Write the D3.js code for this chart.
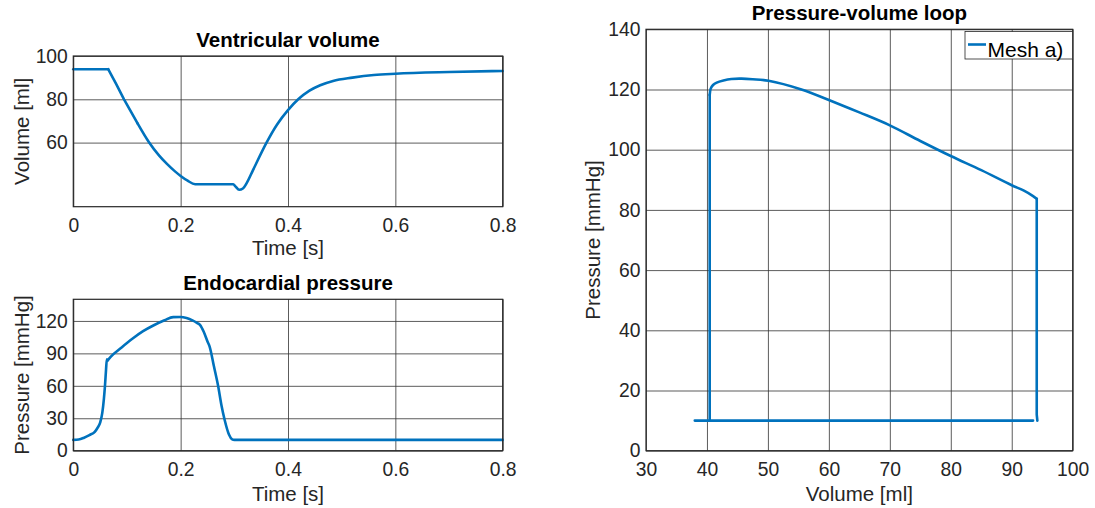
<!DOCTYPE html>
<html>
<head>
<meta charset="utf-8">
<script src="https://cdn.jsdelivr.net/npm/d3@7"></script>
<style>
  body { margin: 0; background: #fff; }
  svg { display: block; }
  text { font-family: "Liberation Sans", Arial, Helvetica, sans-serif; fill: #262626; }
</style>
</head>
<body>
<svg id="chart" width="1095" height="508"></svg>
<script>
// ventricular volume over time
timeVol = [0, 0.065, 0.08, 0.0945, 0.12, 0.141, 0.16, 0.174, 0.19, 0.2, 0.213, 0.227,
  0.298, 0.302, 0.309, 0.316, 0.323, 0.335, 0.36, 0.38, 0.4, 0.419, 0.44, 0.46, 0.484,
  0.52, 0.56, 0.6, 0.7, 0.8]
volume = [93.9, 93.9, 87, 80, 68.8, 60.2, 54, 50.3, 46.6, 44.6, 42.4, 40.8,
  40.8, 39.8, 38.2, 38.8, 41.3, 47.4, 60, 68.5, 75, 80, 84, 86.5, 88.5,
  90, 91.2, 91.8, 92.6, 93.1]

// endocardial pressure over time
timePres = [0, 0.01, 0.02, 0.03, 0.04, 0.045, 0.05, 0.054, 0.057, 0.059, 0.061, 0.0625,
  0.064, 0.07, 0.09, 0.11, 0.13, 0.15, 0.17, 0.186, 0.2, 0.211, 0.222, 0.231, 0.236,
  0.243, 0.25, 0.254, 0.262, 0.27, 0.276, 0.282, 0.29, 0.296, 0.3, 0.8]
pressure = [10, 10.3, 12, 14.5, 17.5, 21, 26, 35, 48, 60, 75, 84.5,
  83.5, 87, 95.5, 103.5, 110.5, 116, 120.6, 123.5, 123.6, 122.6, 120.5, 118, 116.4,
  110, 101, 96.3, 78, 59.3, 42, 28.4, 15, 10.5, 10, 10]

// pressure-volume loop, in time order
loopVolume = [94.2, 94.1, 94.1, 93.5, 92, 90, 85, 80, 75, 70, 65, 60, 55.5, 50.1,
  47.5, 45.7, 44, 42.7, 41.6, 41, 40.6, 40.45, 40.45, 38, 93.5]
loopPressure = [10, 12, 83.7, 84.6, 86.4, 88.2, 93.2, 97.9, 102.9, 108.1, 112.4, 116.5, 120, 122.9,
  123.4, 123.6, 123.5, 123, 122.3, 121.5, 120.2, 118.2, 10, 10, 10]

timeTicks = [0, 0.2, 0.4, 0.6, 0.8]
volumeTicks = [60, 80, 100]
pressureTicks = [0, 30, 60, 90, 120]
loopVolumeTicks = [30, 40, 50, 60, 70, 80, 90, 100]
loopPressureTicks = [0, 20, 40, 60, 80, 100, 120, 140]

const svg = d3.select("#chart")
const blue = "#0072BD"

function panel(o) {
    const x = d3.scaleLinear().domain(o.xDomain).range([o.left, o.right])
    const y = d3.scaleLinear().domain(o.yDomain).range([o.bottom, o.top])
    const w = o.right - o.left, h = o.bottom - o.top
    const g = svg.append("g")

    // grid + tick labels
    const xa = g.append("g")
        .attr("transform", `translate(0,${o.bottom})`)
        .call(d3.axisBottom(x).tickValues(o.xTicks).tickSize(-h).tickPadding(11.5)
            .tickFormat(d3.format("")))
    const ya = g.append("g")
        .attr("transform", `translate(${o.left},0)`)
        .call(d3.axisLeft(y).tickValues(o.yTicks).tickSize(-w).tickPadding(5.5)
            .tickFormat(d3.format("")))
    for (const a of [xa, ya]) {
        a.select(".domain").remove()
        a.selectAll("line").attr("stroke", "#333").attr("stroke-opacity", 0.8).attr("stroke-width", 1)
        a.selectAll("text").attr("fill", "#262626").style("font-size", "19.3px")
            .attr("font-family", null)
    }

    // data line, piece by piece so corners stay sharp
    const pts = o.xs.map((v, i) => [v, o.ys[i]])
    const segs = o.segments || [[0, pts.length - 1, d3.curveMonotoneX]]
    for (const [a, b, curve] of segs) {
        g.append("path")
            .datum(pts.slice(a, b + 1))
            .attr("fill", "none")
            .attr("stroke", blue)
            .attr("stroke-width", 2.6)
            .attr("stroke-linejoin", "round")
            .attr("stroke-linecap", "round")
            .attr("d", d3.line().x(d => x(d[0])).y(d => y(d[1])).curve(curve))
    }

    // axes box
    g.append("rect")
        .attr("x", o.left).attr("y", o.top).attr("width", w).attr("height", h)
        .attr("fill", "none").attr("stroke", "#262626").attr("stroke-width", 1.2)

    // title and labels
    const cx = (o.left + o.right) / 2
    g.append("text").attr("x", cx).attr("y", o.top - 9.5)
        .attr("text-anchor", "middle").style("font-size", "20.5px").style("font-weight", "bold")
        .style("fill", "#000").text(o.title)
    g.append("text").attr("x", cx).attr("y", o.bottom + o.xLabelGap)
        .attr("text-anchor", "middle").style("font-size", "20.5px").text(o.xLabel)
    g.append("text")
        .attr("transform", `translate(${o.yLabelX},${(o.top + o.bottom) / 2}) rotate(-90)`)
        .attr("text-anchor", "middle").style("font-size", "20.5px").text(o.yLabel)
    return { g, x, y }
}

panel({
    left: 73.3, right: 502.7, top: 56, bottom: 206.7,
    xDomain: [0, 0.8], yDomain: [30.4, 100],
    xTicks: timeTicks, yTicks: volumeTicks,
    xs: timeVol, ys: volume,
    segments: [[0, 1, d3.curveLinear], [1, 4, d3.curveLinear], [4, timeVol.length - 1, d3.curveMonotoneX]],
    title: "Ventricular volume", xLabel: "Time [s]", yLabel: "Volume [ml]",
    xLabelGap: 48.5, yLabelX: 29
})

panel({
    left: 73.3, right: 502.7, top: 299.3, bottom: 450.7,
    xDomain: [0, 0.8], yDomain: [0, 140],
    xTicks: timeTicks, yTicks: pressureTicks,
    xs: timePres, ys: pressure,
    segments: [[0, 12, d3.curveMonotoneX], [12, timePres.length - 1, d3.curveMonotoneX]],
    title: "Endocardial pressure", xLabel: "Time [s]", yLabel: "Pressure [mmHg]",
    xLabelGap: 50, yLabelX: 29
})

const pv = panel({
    left: 646, right: 1072.7, top: 29.3, bottom: 450.7,
    xDomain: [30, 100], yDomain: [0, 140],
    xTicks: loopVolumeTicks, yTicks: loopPressureTicks,
    xs: loopVolume, ys: loopPressure,
    segments: [[0, 2, d3.curveLinear], [2, 21, d3.curveCatmullRom.alpha(0.5)], [21, loopVolume.length - 1, d3.curveLinear]],
    title: "Pressure-volume loop", xLabel: "Volume [ml]", yLabel: "Pressure [mmHg]",
    xLabelGap: 50, yLabelX: 600
})

// legend
const lg = pv.g.append("g").attr("transform", "translate(965,31.5)")
lg.append("rect").attr("width", 107.5).attr("height", 27.5)
    .attr("fill", "#fff").attr("stroke", "#262626").attr("stroke-width", 0.8)
lg.append("line").attr("x1", 3).attr("x2", 21).attr("y1", 13).attr("y2", 13)
    .attr("stroke", blue).attr("stroke-width", 2.6)
lg.append("text").attr("x", 22.5).attr("y", 25).style("font-size", "21px")
    .style("fill", "#000").text("Mesh a)")
</script>
</body>
</html>
